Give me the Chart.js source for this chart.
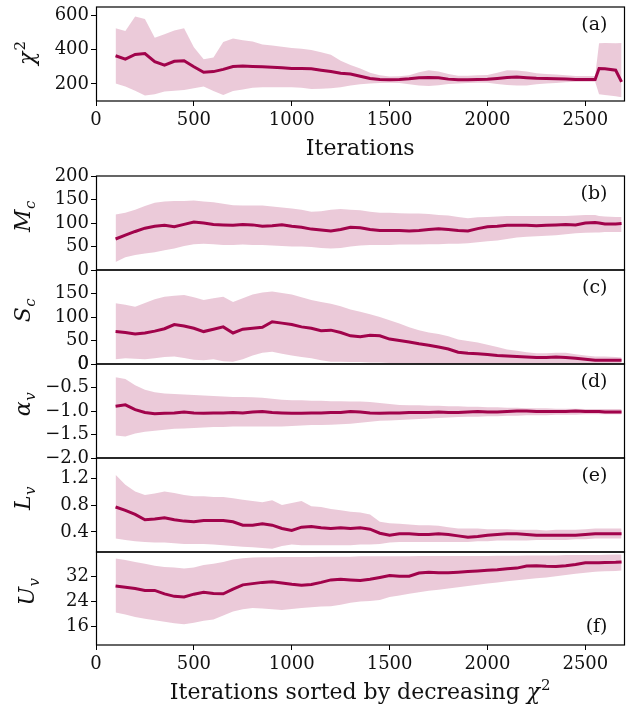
<!DOCTYPE html>
<html><head><meta charset="utf-8">
<script src="https://cdn.jsdelivr.net/npm/chart.js@4"></script>
<style>html,body{margin:0;padding:0;background:#fff;}#wrap{position:relative;width:626px;height:704px;background:#fff;}canvas{position:absolute;left:0;top:0;}</style>
</head><body><div id="wrap"></div>
<script>
// ---------------- data ----------------
const iterations = [
 100,150,200,250,300,350,400,450,500,550,
 600,650,700,750,800,850,900,950,1000,1050,
 1100,1150,1200,1250,1300,1350,1400,1450,1500,1550,
 1600,1650,1700,1750,1800,1850,1900,1950,2000,2050,
 2100,2150,2200,2250,2300,2350,2400,2450,2500,2550,
 2570,2600,2655,2685];

const chi2Mean = [
 365,345,372,378,330,310,332,335,300,268,
 272,285,302,305,302,300,298,295,290,290,
 288,280,272,262,258,245,232,226,224,226,
 230,236,238,236,228,224,224,226,227,232,
 238,240,236,233,232,230,228,226,226,226,
 290,288,280,212];
const chi2Upper = [
 525,510,594,580,470,490,512,525,415,345,
 355,445,465,455,448,430,425,418,410,405,
 398,385,370,335,310,290,265,250,243,245,
 250,268,280,272,258,248,248,250,252,265,
 280,278,272,262,258,255,250,246,246,246,
 438,440,438,440];
const chi2Lower = [
 203,185,160,132,140,155,160,165,175,185,
 158,135,158,168,178,180,180,180,180,178,
 170,172,175,180,190,198,203,205,207,205,
 198,190,188,192,200,203,205,207,207,200,
 194,190,190,198,203,206,210,213,213,213,
 140,135,128,122];

const mcMean = [
 66,74,82,89,93,95,92,97,102,100,
 97,96,95,97,96,93,94,96,93,91,
 87,85,83,86,91,90,86,84,84,84,
 83,84,86,88,86,84,83,88,92,93,
 95,95,95,94,95,96,97,96,100,101,
 100,98,98,99];
const mcUpper = [
 118,122,128,136,143,146,147,147,148,146,
 144,141,138,137,137,137,135,133,131,128,
 124,125,128,130,128,127,124,122,122,121,
 120,120,119,117,116,113,110,112,113,114,
 115,115,115,115,115,115,115,116,117,117,
 115,114,113,113];
const mcLower = [
 17,27,32,35,38,42,46,51,55,56,
 55,53,53,54,53,53,52,51,50,50,
 49,47,46,47,50,52,53,53,53,54,
 54,54,55,55,56,56,57,59,61,63,
 66,69,71,72,73,74,76,78,79,80,
 80,81,81,81];

const scMean = [
 69,67,64,66,70,75,84,81,76,69,
 74,79,66,74,76,78,90,87,84,79,
 76,71,72,67,60,58,61,60,53,50,
 47,43,40,36,32,25,23,22,20,18,
 17,16,15,14,14,15,14,12,10,8,
 8,8,8,8];
const scUpper = [
 129,126,122,130,138,143,145,147,142,136,
 140,143,132,140,148,152,154,151,148,142,
 136,132,128,123,116,111,106,100,93,86,
 78,72,67,64,59,52,49,46,41,36,
 31,28,25,23,23,24,24,21,18,16,
 16,16,15,14];
const scLower = [
 10,12,11,10,12,15,16,13,9,8,
 10,6,5,10,18,24,26,22,18,15,
 12,8,5,5,4,4,3,3,2,2,
 2,1,1,1,1,1,1,1,1,1,
 1,1,1,1,1,1,1,1,1,1,
 1,1,2,2];

const alphaMean = [
 -0.90,-0.87,-0.97,-1.03,-1.06,-1.05,-1.04,-1.02,-1.04,-1.05,
 -1.04,-1.04,-1.03,-1.04,-1.02,-1.01,-1.03,-1.04,-1.05,-1.05,
 -1.04,-1.04,-1.03,-1.03,-1.01,-1.02,-1.04,-1.05,-1.04,-1.04,
 -1.03,-1.03,-1.03,-1.02,-1.03,-1.03,-1.02,-1.01,-1.02,-1.02,
 -1.01,-1.00,-1.00,-1.01,-1.01,-1.01,-1.01,-1.00,-1.01,-1.01,
 -1.01,-1.02,-1.02,-1.02];
const alphaUpper = [
 -0.28,-0.32,-0.45,-0.55,-0.60,-0.63,-0.64,-0.65,-0.66,-0.67,
 -0.68,-0.69,-0.70,-0.70,-0.71,-0.72,-0.74,-0.76,-0.77,-0.77,
 -0.78,-0.78,-0.79,-0.79,-0.80,-0.80,-0.81,-0.83,-0.85,-0.87,
 -0.88,-0.88,-0.89,-0.89,-0.90,-0.90,-0.91,-0.91,-0.92,-0.92,
 -0.93,-0.93,-0.94,-0.94,-0.94,-0.95,-0.95,-0.95,-0.96,-0.96,
 -0.96,-0.96,-0.96,-0.96];
const alphaLower = [
 -1.52,-1.54,-1.48,-1.44,-1.42,-1.40,-1.38,-1.37,-1.36,-1.35,
 -1.34,-1.34,-1.33,-1.33,-1.33,-1.33,-1.33,-1.33,-1.32,-1.31,
 -1.30,-1.30,-1.29,-1.28,-1.27,-1.25,-1.23,-1.21,-1.20,-1.19,
 -1.18,-1.17,-1.16,-1.15,-1.14,-1.13,-1.12,-1.12,-1.11,-1.11,
 -1.10,-1.10,-1.09,-1.09,-1.09,-1.08,-1.08,-1.08,-1.07,-1.07,
 -1.07,-1.07,-1.07,-1.07];

const lMean = [
 0.77,0.72,0.66,0.58,0.59,0.61,0.58,0.56,0.55,0.57,
 0.57,0.57,0.55,0.50,0.50,0.52,0.50,0.45,0.42,0.47,
 0.48,0.46,0.45,0.46,0.45,0.46,0.44,0.38,0.35,0.37,
 0.37,0.36,0.36,0.37,0.36,0.34,0.32,0.33,0.35,0.36,
 0.37,0.37,0.36,0.35,0.35,0.35,0.35,0.35,0.36,0.37,
 0.37,0.37,0.37,0.37];
const lUpper = [
 1.25,1.10,1.00,0.95,0.97,1.00,0.98,0.95,0.93,0.93,
 0.92,0.92,0.90,0.88,0.86,0.84,0.87,0.80,0.83,0.86,
 0.78,0.77,0.74,0.72,0.70,0.69,0.66,0.55,0.53,0.52,
 0.51,0.50,0.50,0.49,0.47,0.45,0.45,0.45,0.44,0.44,
 0.44,0.43,0.43,0.43,0.42,0.43,0.43,0.43,0.44,0.45,
 0.45,0.45,0.45,0.45];
const lLower = [
 0.30,0.28,0.26,0.25,0.24,0.24,0.23,0.22,0.22,0.22,
 0.21,0.20,0.19,0.18,0.17,0.16,0.15,0.19,0.21,0.20,
 0.20,0.20,0.20,0.20,0.20,0.21,0.21,0.22,0.24,0.25,
 0.25,0.25,0.25,0.25,0.25,0.25,0.25,0.26,0.26,0.27,
 0.27,0.27,0.27,0.28,0.28,0.28,0.28,0.29,0.29,0.30,
 0.30,0.30,0.30,0.30];

const uMean = [
 29.0,28.6,28.2,27.6,27.6,26.5,25.7,25.5,26.4,27.0,
 26.6,26.5,28.0,29.4,29.8,30.2,30.4,30.0,29.6,29.3,
 29.5,30.2,31.0,31.2,31.0,30.8,31.2,31.8,32.4,32.2,
 32.2,33.2,33.5,33.3,33.3,33.5,33.7,33.9,34.1,34.3,
 34.6,34.8,35.5,35.6,35.4,35.3,35.6,36.0,36.5,36.5,
 36.5,36.6,36.7,36.8];
const uUpper = [
 37.9,37.4,36.8,36.2,35.6,35.2,35.0,34.7,35.0,35.8,
 36.2,36.8,37.6,38.0,38.2,38.3,38.3,38.4,38.4,38.4,
 38.4,38.5,38.5,38.5,38.5,38.6,38.6,38.6,38.6,38.6,
 38.6,38.7,38.7,38.7,38.7,38.7,38.7,38.7,38.7,38.8,
 38.8,38.8,38.9,38.9,38.9,38.9,39.0,39.0,39.0,39.0,
 39.0,39.1,39.2,39.2];
const uLower = [
 20.5,19.8,19.0,18.5,18.0,17.5,17.0,16.7,17.2,17.8,
 18.2,19.5,20.8,21.5,21.9,21.8,21.5,21.3,21.6,21.9,
 22.2,22.4,22.5,23.0,23.6,24.0,24.2,24.5,25.5,26.0,
 26.5,27.0,27.5,27.8,28.2,28.6,29.0,29.4,29.8,30.2,
 30.6,30.9,31.2,31.5,31.8,32.2,32.6,33.0,33.3,33.6,
 33.7,33.8,33.9,34.0];

// ticks
const xTicks = [0,500,1000,1500,2000,2500];
const chi2Ticks = [200,400,600];
const mcTicks = [0,50,100,150,200];
const scTicks = [0,50,100,150];
const alphaTicks = [-2,-1.5,-1,-0.5,0];
const alphaTickLabels = ['\u22122.0','\u22121.5','\u22121.0','\u22120.5','0'];
const lTicks = [0.4,0.8,1.2];
const lTickLabels = ['0.4','0.8','1.2'];
const uTicks = [16,24,32];

// ---------------- style / layout ----------------
const LINE = '#a1034b';
const FILL = 'rgba(161,3,75,0.21)';
const FONT = '"DejaVu Serif", serif';
const W = 626, H = 704;

const panels = [
 {mean:chi2Mean, upper:chi2Upper, lower:chi2Lower, yMin:100, yMax:650, ticks:chi2Ticks,
  label:{main:'\u03c7', sup:'2'}, top:7, bottom:101, xAxis:true,
  xTitle:{text:'Iterations'}, tag:'(a)', tagAt:'top'},
 {mean:mcMean, upper:mcUpper, lower:mcLower, yMin:0, yMax:200, ticks:mcTicks,
  label:{main:'M', sub:'c'}, top:176, bottom:270, tag:'(b)', tagAt:'top'},
 {mean:scMean, upper:scUpper, lower:scLower, yMin:0, yMax:200, ticks:scTicks,
  label:{main:'S', sub:'c'}, top:270, bottom:364, tag:'(c)', tagAt:'top'},
 {mean:alphaMean, upper:alphaUpper, lower:alphaLower, yMin:-2, yMax:0, ticks:alphaTicks, tickLabels:alphaTickLabels,
  label:{main:'\u03b1', sub:'v'}, top:364, bottom:458, tag:'(d)', tagAt:'top'},
 {mean:lMean, upper:lUpper, lower:lLower, yMin:0.1, yMax:1.5, ticks:lTicks, tickLabels:lTickLabels,
  label:{main:'L', sub:'v'}, top:458, bottom:552, tag:'(e)', tagAt:'top'},
 {mean:uMean, upper:uUpper, lower:uLower, yMin:10, yMax:40, ticks:uTicks,
  label:{main:'U', sub:'v'}, top:552, bottom:645, xAxis:true,
  xTitle:{text:'Iterations sorted by decreasing ', math:'\u03c7', sup:'2'}, tag:'(f)', tagAt:'bottom'}
];

const deco = {
  id:'deco',
  afterDraw(chart, args, o){
    const ctx = chart.ctx, a = chart.chartArea;
    ctx.save();
    // frame
    ctx.strokeStyle = '#000'; ctx.lineWidth = 1.2;
    ctx.strokeRect(a.left + 0.5, a.top, a.right - a.left - 0.5, a.bottom - a.top);
    // tag
    ctx.fillStyle = '#111';
    ctx.font = '19px ' + FONT;
    ctx.textAlign = 'right'; ctx.textBaseline = 'middle';
    const ty = o.tagAt === 'top' ? a.top + 18 : a.bottom - 18;
    ctx.fillText(o.tag, a.right - 17, ty);
    // x title
    if (o.xTitle) {
      const t = o.xTitle;
      ctx.textAlign = 'left'; ctx.textBaseline = 'alphabetic';
      ctx.font = '22px ' + FONT; const w1 = ctx.measureText(t.text).width;
      let w2 = 0, w3 = 0;
      if (t.math) { ctx.font = 'italic 22px ' + FONT; w2 = ctx.measureText(t.math).width + 1;
                    ctx.font = '15px ' + FONT; w3 = ctx.measureText(t.sup).width; }
      let x0 = (a.left + a.right) / 2 - (w1 + w2 + w3) / 2;
      const by = a.bottom + 54;
      ctx.font = '22px ' + FONT; ctx.fillText(t.text, x0, by);
      if (t.math) {
        ctx.font = 'italic 22px ' + FONT; ctx.fillText(t.math, x0 + w1, by);
        ctx.font = '15px ' + FONT; ctx.fillText(t.sup, x0 + w1 + w2, by - 9);
      }
    }
    // y label (rotated, italic with sub/superscript)
    const L = o.label;
    const mainFont = 'italic 22px ' + FONT, smallFont = 'italic 15px ' + FONT;
    ctx.font = mainFont;
    const mm = ctx.measureText(L.main);
    ctx.font = L.sup ? '15px ' + FONT : smallFont;
    const sm = ctx.measureText(L.sup || L.sub);
    const total = mm.width + sm.width + 1;
    const subDrop = 5, supRise = 9;
    const desc = Math.max(mm.actualBoundingBoxDescent, L.sub ? subDrop + sm.actualBoundingBoxDescent : 0);
    const baseX = 39 - desc;
    const cy = (a.top + a.bottom) / 2 - (L.sub ? 7 : 1);
    ctx.translate(baseX, cy);
    ctx.rotate(-Math.PI / 2);
    ctx.textAlign = 'left'; ctx.textBaseline = 'alphabetic';
    ctx.font = mainFont;
    ctx.fillText(L.main, -total / 2, 0);
    if (L.sup) { ctx.font = '15px ' + FONT; ctx.fillText(L.sup, -total / 2 + mm.width + 1, -supRise); }
    else { ctx.font = smallFont; ctx.fillText(L.sub, -total / 2 + mm.width + 0.5, subDrop); }
    ctx.restore();
  }
};

const wrap = document.getElementById('wrap');
panels.forEach(p => {
  const c = document.createElement('canvas');
  c.width = W; c.height = H;
  wrap.appendChild(c);
  const xH = p.xAxis ? 60 : 0;
  const pts = arr => iterations.map((x, i) => ({x: x, y: arr[i]}));
  new Chart(c, {
    type: 'line',
    data: {datasets: [
      {data: pts(p.mean), borderColor: LINE, borderWidth: 3, pointRadius: 0, fill: false, tension: 0},
      {data: pts(p.upper), borderWidth: 0, borderColor: 'rgba(0,0,0,0)', pointRadius: 0, backgroundColor: FILL, fill: '+1', tension: 0},
      {data: pts(p.lower), borderWidth: 0, borderColor: 'rgba(0,0,0,0)', pointRadius: 0, fill: false, tension: 0}
    ]},
    options: {
      responsive: false, animation: false, devicePixelRatio: 1,
      layout: {padding: {left: 0, right: 1.5, top: p.top, bottom: H - p.bottom - xH}},
      plugins: {legend: {display: false}, tooltip: {enabled: false}, deco: p},
      scales: {
        x: {
          type: 'linear', min: 0, max: 2700, display: !!p.xAxis,
          afterBuildTicks: s => { s.ticks = xTicks.map(v => ({value: v})); },
          afterFit: s => { s.height = xH; s.paddingLeft = 0; s.paddingRight = 0; },
          grid: {drawOnChartArea: false, drawTicks: true, tickLength: 5, color: '#000', lineWidth: 1},
          border: {display: false},
          ticks: {font: {family: FONT, size: 18}, color: '#111', padding: 4, maxRotation: 0, autoSkip: false,
            callback: v => String(v)},
          title: {display: false}
        },
        y: {
          type: 'linear', min: p.yMin, max: p.yMax,
          afterBuildTicks: s => { s.ticks = p.ticks.map(v => ({value: v})); },
          afterFit: s => { s.width = 96; s.paddingTop = 0; s.paddingBottom = 0; },
          grid: {drawOnChartArea: false, drawTicks: true, tickLength: 5, color: '#000', lineWidth: 1},
          border: {display: false},
          ticks: {font: {family: FONT, size: 18}, color: '#111', padding: 2, autoSkip: false,
            callback: v => { const i = p.ticks.indexOf(v); return p.tickLabels ? p.tickLabels[i] : String(v); }}
        }
      }
    },
    plugins: [deco]
  });
});
</script>
</body></html>
